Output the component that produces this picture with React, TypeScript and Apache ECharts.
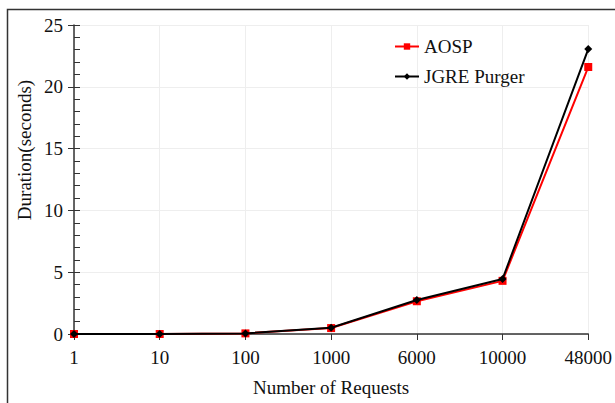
import React, { useEffect, useRef } from "react";
import * as echarts from "echarts";

const categories = ["1", "10", "100", "1000", "6000", "10000", "48000"];
const aosp = [0, 0, 0.05, 0.48, 2.65, 4.3, 21.6];
const jgre = [0, 0, 0.05, 0.5, 2.75, 4.45, 23.05];
const yTicks = { min: 0, max: 25, interval: 5 };

const FONT = "Liberation Serif";
const FS = 19;

export default function App() {
  const ref = useRef<HTMLDivElement>(null);
  useEffect(() => {
    const chart = echarts.init(ref.current!, null, { renderer: "svg" });
    chart.setOption({
      animation: false,
      backgroundColor: "#ffffff",
      textStyle: { fontFamily: FONT },
      grid: { left: 74, right: 26, top: 25, bottom: 69 },
      legend: {
        left: 389,
        top: 32,
        orient: "vertical",
        itemGap: 11,
        itemWidth: 24,
        itemHeight: 8,
        textStyle: { fontFamily: FONT, fontSize: FS, color: "#111" },
        data: ["AOSP", "JGRE Purger"],
      },
      xAxis: {
        type: "category",
        data: categories,
        boundaryGap: false,
        name: "Number of Requests",
        nameLocation: "middle",
        nameGap: 44,
        nameTextStyle: { fontFamily: FONT, fontSize: FS, color: "#111" },
        axisLine: { lineStyle: { color: "#333", width: 1.5 } },
        axisTick: { show: true, length: 6, alignWithLabel: true, lineStyle: { color: "#333" } },
        axisLabel: { fontFamily: FONT, fontSize: FS, color: "#111", margin: 14 },
        splitLine: { show: true, lineStyle: { color: "#eeeeee" } },
      },
      yAxis: [
        {
          type: "value",
          min: yTicks.min,
          max: yTicks.max,
          interval: yTicks.interval,
          axisLine: { show: true, lineStyle: { color: "#333", width: 1.5 } },
          axisTick: { show: true, length: 6, lineStyle: { color: "#333" } },
          axisLabel: { fontFamily: FONT, fontSize: FS, color: "#111", margin: 11 },
          splitLine: { show: true, lineStyle: { color: "#eeeeee" } },
        },
        {
          type: "value",
          position: "left",
          min: yTicks.min,
          max: yTicks.max,
          interval: yTicks.interval,
          axisLine: { show: false },
          axisTick: { show: true, inside: true, length: 6, lineStyle: { color: "#333" } },
          minorTick: { show: true, splitNumber: 5, length: 6, lineStyle: { color: "#333" } },
          axisLabel: { show: false },
          splitLine: { show: false },
        },
      ],
      series: [
        {
          name: "AOSP",
          type: "line",
          data: aosp,
          color: "#ff0000",
          symbol: "rect",
          symbolSize: 8,
          lineStyle: { width: 2, color: "#ff0000" },
          itemStyle: { color: "#ff0000" },
          z: 2,
        },
        {
          name: "JGRE Purger",
          type: "line",
          data: jgre,
          color: "#000000",
          symbol: "diamond",
          symbolSize: 8,
          lineStyle: { width: 2, color: "#000000" },
          itemStyle: { color: "#000000" },
          z: 3,
        },
      ],
      graphic: [
        {
          type: "rect",
          shape: { x: 7.5, y: 9.5, width: 640, height: 420 },
          style: { fill: "none", stroke: "#333", lineWidth: 1.5 },
          silent: true,
        },
        {
          type: "text",
          x: 24,
          y: 150,
          rotation: Math.PI / 2,
          style: {
            text: "Duration(seconds)",
            fontFamily: FONT,
            fontSize: FS,
            fill: "#111",
            align: "center",
            verticalAlign: "middle",
          },
        },
      ],
    });
    return () => chart.dispose();
  }, []);
  return (
    <div
      ref={ref}
      style={{ position: "absolute", left: 0, top: 0, width: 615, height: 403 }}
    />
  );
}
